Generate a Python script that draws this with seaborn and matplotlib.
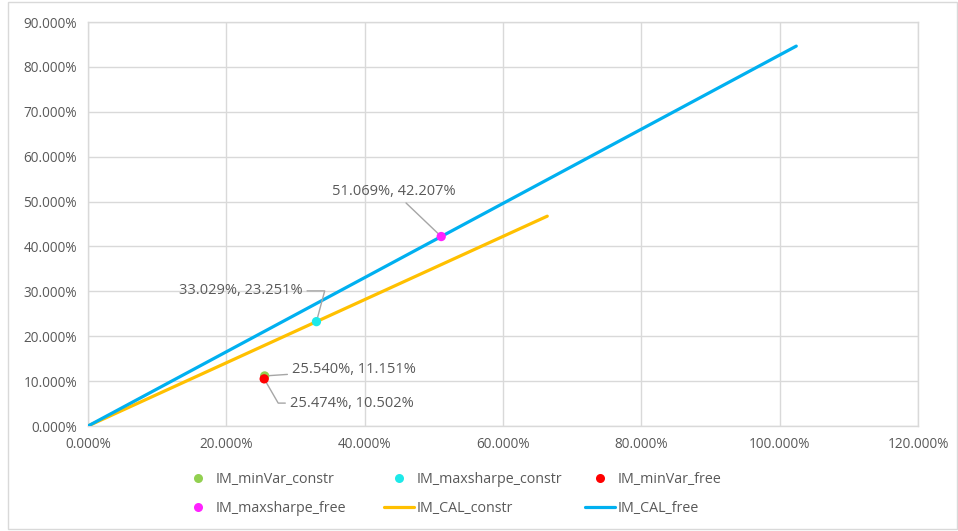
import matplotlib
matplotlib.use("Agg")
import matplotlib.pyplot as plt
import seaborn as sns
import pandas as pd
from matplotlib.ticker import FuncFormatter, MultipleLocator
from matplotlib.patches import Rectangle
from matplotlib.lines import Line2D

# ---- data (percent) ----
point_names = ["IM_minVar_constr", "IM_maxsharpe_constr", "IM_minVar_free", "IM_maxsharpe_free"]
point_x = [25.540, 33.029, 25.474, 51.069]
point_y = [11.151, 23.251, 10.502, 42.207]
point_colors = ["#92d050", "#1de9e9", "#ff0000", "#ff22ff"]

cal_constr_x = [0.0, 66.4]
cal_constr_y = [0.0, 66.4 * 23.251 / 33.029]
cal_free_x = [0.0, 102.4]
cal_free_y = [0.0, 102.4 * 42.207 / 51.069]
line_colors = {"IM_CAL_constr": "#ffc000", "IM_CAL_free": "#00b0f0"}

sns.set_theme(style="white")
plt.rcParams['font.family'] = ['Open Sans', 'DejaVu Sans']

fig = plt.figure(figsize=(9.58, 5.31), dpi=100)
ax = fig.add_axes([88/958, 1-426/531, (918-88)/958, (426-22)/531])

lines_df = pd.concat([
    pd.DataFrame({"x": cal_constr_x, "y": cal_constr_y, "s": "IM_CAL_constr"}),
    pd.DataFrame({"x": cal_free_x, "y": cal_free_y, "s": "IM_CAL_free"}),
])
sns.lineplot(data=lines_df, x="x", y="y", hue="s", palette=line_colors, linewidth=2.3,
             ax=ax, legend=False, zorder=3, sort=False)

pts_df = pd.DataFrame({"x": point_x, "y": point_y, "s": point_names})
sns.scatterplot(data=pts_df, x="x", y="y", hue="s", palette=dict(zip(point_names, point_colors)),
                s=45, edgecolor="none", ax=ax, legend=False, zorder=5)

ax.set_xlim(0, 120)
ax.set_ylim(0, 90)
ax.xaxis.set_major_locator(MultipleLocator(20))
ax.yaxis.set_major_locator(MultipleLocator(10))
fmt = FuncFormatter(lambda v, p: f"{v:.3f}%")
ax.xaxis.set_major_formatter(fmt)
ax.yaxis.set_major_formatter(fmt)
ax.set_xlabel("")
ax.set_ylabel("")
ax.grid(True, color="#d9d9d9", linewidth=1.0)
ax.set_axisbelow(True)
for sp in ax.spines.values():
    sp.set_color("#d9d9d9")
    sp.set_linewidth(1.0)
ax.tick_params(axis="both", colors="#595959", labelsize=9.8, length=0, pad=8)

# annotations
FS = 10.5
ann_kw = dict(fontsize=FS, color="#595959", textcoords="data",
              arrowprops=dict(arrowstyle="-", color="#a6a6a6", lw=1.0, shrinkA=1, shrinkB=3))
ax.annotate("51.069%, 42.207%", xy=(point_x[3], point_y[3]), xytext=(44.2, 52.3),
            ha="center", va="center", **ann_kw)
ax.annotate("33.029%, 23.251%", xy=(point_x[1], point_y[1]), xytext=(31.0, 30.1),
            ha="right", va="center",
            fontsize=FS, color="#595959",
            arrowprops=dict(arrowstyle="-", color="#a6a6a6", lw=1.0, shrinkA=1, shrinkB=3,
                            connectionstyle="angle,angleA=0,angleB=75,rad=0"))
ax.annotate("25.540%, 11.151%", xy=(point_x[0], point_y[0]), xytext=(29.5, 12.5),
            ha="left", va="center", **ann_kw)
ax.annotate("25.474%, 10.502%", xy=(point_x[2], point_y[2]), xytext=(29.2, 5.1),
            ha="left", va="center",
            fontsize=FS, color="#595959",
            arrowprops=dict(arrowstyle="-", color="#a6a6a6", lw=1.0, shrinkA=1, shrinkB=3,
                            connectionstyle="angle,angleA=0,angleB=-60,rad=0"))

# legend: three columns, placed individually
h = {}
for n, c in zip(point_names, point_colors):
    h[n] = Line2D([], [], marker="o", linestyle="none", color=c, markersize=6.5, markeredgewidth=0)
for n, c in line_colors.items():
    h[n] = Line2D([], [], color=c, linewidth=2.3)
columns = [(183, ["IM_minVar_constr", "IM_maxsharpe_free"]),
           (384, ["IM_maxsharpe_constr", "IM_CAL_constr"]),
           (585, ["IM_minVar_free", "IM_CAL_free"])]
for xpx, names in columns:
    leg = fig.legend([h[n] for n in names], names, ncol=1, loc="center left",
                     bbox_to_anchor=(xpx/958, 1-494/531), frameon=False, fontsize=10.3,
                     handlelength=2.1, handletextpad=0.2, labelspacing=0.95,
                     borderpad=0, borderaxespad=0)
    for t in leg.get_texts():
        t.set_color("#595959")

fig.patches.append(Rectangle((8/958, 2/531), 949/958, 527/531, transform=fig.transFigure,
                             fill=False, edgecolor="#d9d9d9", linewidth=1.0))

fig.savefig("out.png", dpi=100)
